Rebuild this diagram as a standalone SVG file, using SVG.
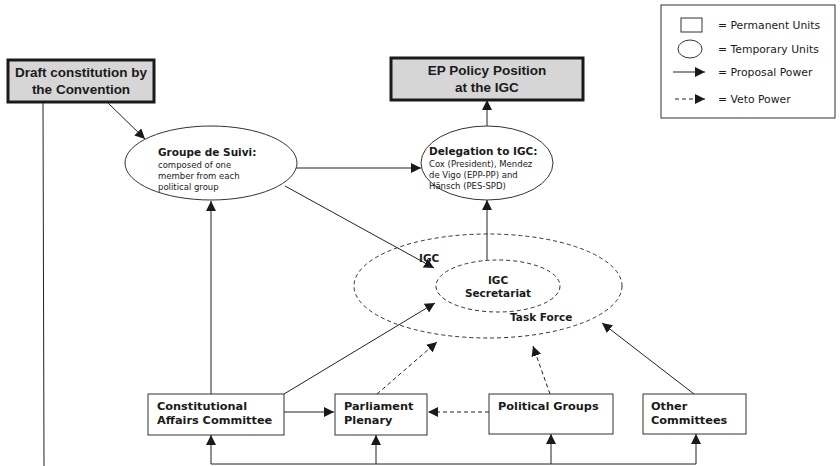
<svg xmlns="http://www.w3.org/2000/svg" width="840" height="466" viewBox="0 0 840 466">
<defs>
<marker id="ah" viewBox="0 0 10 10" refX="10" refY="5" markerWidth="10" markerHeight="10" markerUnits="userSpaceOnUse" orient="auto">
<path d="M0,0 L10,5 L0,10 z" fill="#1a1a1a"/>
</marker>
<style>
.perm{fill:#d6d6d6;stroke:#1a1a1a;stroke-width:3}
.unit{fill:#fff;stroke:#333;stroke-width:1}
.tmp{fill:#fff;stroke:#333;stroke-width:1}
.dtmp{fill:none;stroke:#333;stroke-width:1;stroke-dasharray:4,3}
.sol{fill:none;stroke:#222;stroke-width:1;marker-end:url(#ah)}
.dsh{fill:none;stroke:#222;stroke-width:1;stroke-dasharray:4,3;marker-end:url(#ah)}
.ln{fill:none;stroke:#222;stroke-width:1}
.bt{font-family:"Liberation Sans",Arial,sans-serif;font-weight:bold;font-size:13.5px;fill:#1a1a1a;text-anchor:middle}
.hd{font-family:"DejaVu Sans",Verdana,sans-serif;font-weight:bold;font-size:10.5px;fill:#1a1a1a}
.sm{font-family:"DejaVu Sans",Verdana,sans-serif;font-size:8.5px;fill:#1a1a1a}
.bx{font-family:"DejaVu Sans",Verdana,sans-serif;font-weight:bold;font-size:11.3px;fill:#1a1a1a}
.lg{font-family:"DejaVu Sans",Verdana,sans-serif;font-size:10.8px;fill:#1a1a1a}
</style>
</defs>
<rect width="840" height="466" fill="#fff"/>

<g id="legend">
<rect x="661" y="5" width="174" height="113" fill="#fff" stroke="#333" stroke-width="1"/>
<rect x="681" y="18" width="21" height="14" fill="#fff" stroke="#333" stroke-width="1"/>
<text class="lg" x="718" y="29">= Permanent Units</text>
<ellipse cx="690" cy="49" rx="12" ry="9" fill="#fff" stroke="#333" stroke-width="1"/>
<text class="lg" x="718" y="53">= Temporary Units</text>
<line class="sol" x1="673" y1="72" x2="705" y2="72"/>
<text class="lg" x="718" y="76">= Proposal Power</text>
<line class="dsh" x1="675" y1="99" x2="705" y2="99"/>
<text class="lg" x="718" y="103">= Veto Power</text>
</g>

<g id="connectors">
<line class="ln" x1="43" y1="102" x2="44" y2="466"/>
<line class="ln" x1="211" y1="464" x2="696" y2="464"/>
<line class="sol" x1="211" y1="464" x2="211" y2="435"/>
<line class="sol" x1="376" y1="464" x2="376" y2="435"/>
<line class="sol" x1="551" y1="464" x2="551" y2="434"/>
<line class="sol" x1="696" y1="464" x2="696" y2="434"/>
<line class="sol" x1="107" y1="102" x2="145" y2="139"/>
<line class="sol" x1="295" y1="168" x2="421" y2="168"/>
<line class="sol" x1="285" y1="186" x2="434" y2="268"/>
<line class="sol" x1="487" y1="127" x2="487" y2="100"/>
<line class="sol" x1="487" y1="260" x2="487" y2="200"/>
<line class="sol" x1="211" y1="394" x2="211" y2="201"/>
<line class="sol" x1="284" y1="394" x2="435" y2="303"/>
<line class="sol" x1="284" y1="412" x2="334" y2="412"/>
<line class="dsh" x1="489" y1="412" x2="428" y2="412"/>
<line class="dsh" x1="377" y1="394" x2="437" y2="342"/>
<line class="dsh" x1="550" y1="394" x2="533" y2="346"/>
<line class="sol" x1="694" y1="394" x2="602" y2="323"/>
</g>

<g id="draft">
<rect class="perm" x="8" y="60" width="146" height="42"/>
<text class="bt" x="81" y="77">Draft constitution by</text>
<text class="bt" x="81" y="94">the Convention</text>
</g>

<g id="ep-position">
<rect class="perm" x="391" y="58" width="192" height="42"/>
<text class="bt" x="487" y="75">EP Policy Position</text>
<text class="bt" x="487" y="92">at the IGC</text>
</g>

<g id="groupe">
<ellipse class="tmp" cx="211" cy="163" rx="86" ry="37"/>
<text class="hd" x="158" y="156">Groupe de Suivi:</text>
<text class="sm" x="158" y="168">composed of one</text>
<text class="sm" x="158" y="179">member from each</text>
<text class="sm" x="158" y="190">political group</text>
</g>

<g id="delegation">
<ellipse class="tmp" cx="487" cy="163" rx="66" ry="37"/>
<text class="hd" x="429" y="155">Delegation to IGC:</text>
<text class="sm" x="429" y="167">Cox (President), Mendez</text>
<text class="sm" x="429" y="178">de Vigo (EPP-PP) and</text>
<text class="sm" x="429" y="189">Hänsch (PES-SPD)</text>
</g>

<g id="task-force">
<ellipse class="dtmp" cx="488" cy="286" rx="134" ry="52"/>
<text class="hd" x="419" y="262">IGC</text>
<text class="hd" x="510" y="321">Task Force</text>
</g>

<g id="secretariat">
<ellipse class="dtmp" cx="498" cy="286" rx="62" ry="26"/>
<text class="hd" x="498" y="284" text-anchor="middle">IGC</text>
<text class="hd" x="498" y="297" text-anchor="middle">Secretariat</text>
</g>

<g id="constitutional">
<rect class="unit" x="148" y="394" width="136" height="41"/>
<text class="bx" x="157" y="410">Constitutional</text>
<text class="bx" x="157" y="424">Affairs Committee</text>
</g>

<g id="plenary">
<rect class="unit" x="335" y="394" width="92" height="41"/>
<text class="bx" x="344" y="410">Parliament</text>
<text class="bx" x="344" y="424">Plenary</text>
</g>

<g id="political-groups">
<rect class="unit" x="489" y="394" width="124" height="40"/>
<text class="bx" x="498" y="410">Political Groups</text>
</g>

<g id="other-committees">
<rect class="unit" x="643" y="394" width="103" height="40"/>
<text class="bx" x="651" y="410">Other</text>
<text class="bx" x="651" y="424">Committees</text>
</g>
</svg>
